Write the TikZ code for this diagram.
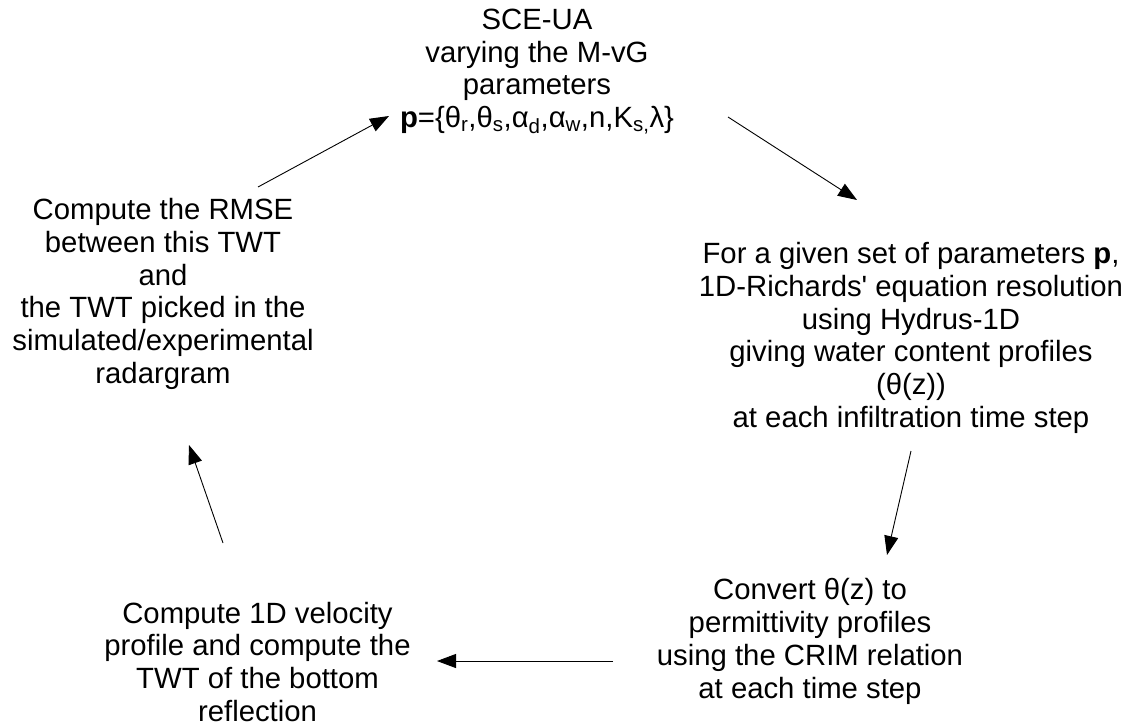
\documentclass[tikz,border=0pt]{standalone}
\usepackage{fontspec}
\setmainfont{Liberation Sans}
\usetikzlibrary{arrows.meta}
\begin{document}
\begin{tikzpicture}[x=1pt,y=-1pt,
  txt/.style={align=center,font=\fontsize{29.3}{32.7}\selectfont,inner sep=0pt},
  arr/.style={line width=0.9pt,-{Triangle[length=19pt,width=14pt]}}]
\useasboundingbox (0,0) rectangle (1139,726);
\node[txt] (top) at (537,71.5) {SCE-UA\\varying the M-vG\\parameters\\\textbf{p}=\{θ\textsubscript{r},θ\textsubscript{s},α\textsubscript{d},α\textsubscript{w},n,K\textsubscript{s,}λ\}};
\node[txt] (left) at (163,294) {Compute the RMSE\\between this TWT\\and\\the TWT picked in the\\simulated/experimental\\radargram};
\node[txt] (right) at (911,338) {For a given set of parameters \textbf{p},\\1D-Richards\textquotesingle{} equation resolution\\using Hydrus-1D\\giving water content profiles\\(θ(z))\\at each infiltration time step};
\node[txt] (br) at (810,641.4) {Convert θ(z) to\\permittivity profiles\\using the CRIM relation\\at each time step};
\node[txt] (bl) at (257.5,661.8) {Compute 1D velocity\\profile and compute the\\TWT of the bottom\\reflection};
\coordinate (a1s) at (258,187); \coordinate (a1e) at (389,116);
\coordinate (a2s) at (728,117); \coordinate (a2e) at (857,200);
\coordinate (a3s) at (911,451); \coordinate (a3e) at (887,555);
\coordinate (a4s) at (613,661); \coordinate (a4e) at (437,661);
\coordinate (a5s) at (223,543); \coordinate (a5e) at (189,445);
\draw[arr] (a1s) -- (a1e);
\draw[arr] (a2s) -- (a2e);
\draw[arr] (a3s) -- (a3e);
\draw[arr] (a4s) -- (a4e);
\draw[arr] (a5s) -- (a5e);
\end{tikzpicture}
\end{document}
